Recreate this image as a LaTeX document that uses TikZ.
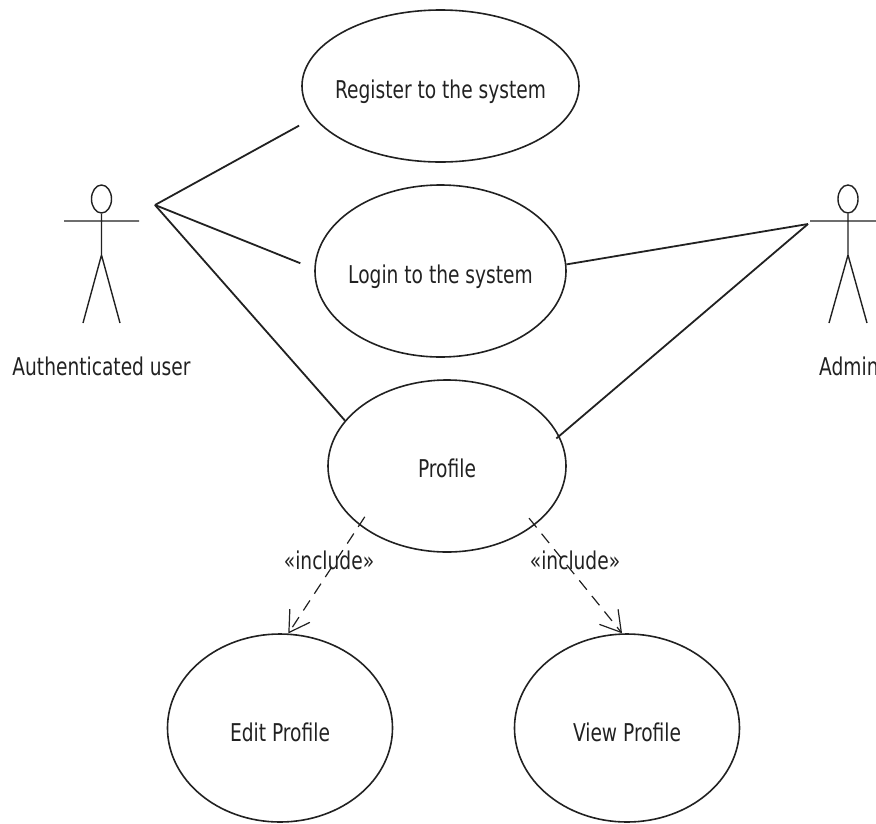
\documentclass[tikz,border=0pt]{standalone}
\usepackage{fontspec}
\setmainfont[FakeStretch=0.76]{DejaVu Sans}
\usetikzlibrary{shapes.geometric,arrows.meta}
\definecolor{ink}{gray}{0.13}
\newcommand{\uctext}[2]{\raisebox{#1}[0pt][0pt]{\makebox[0pt][c]{#2}}}
\tikzset{
  usecase/.style={draw=ink,ellipse,line width=1.6pt,inner sep=0pt,text=ink,font=\fontsize{24.5}{28}\selectfont},
  head/.style={draw=ink,ellipse,line width=1.4pt,minimum width=20pt,minimum height=28pt,inner sep=0pt},
  limb/.style={draw=ink,line width=1.4pt},
  assoc/.style={draw=ink,line width=1.8pt},
  incl/.style={draw=ink,line width=1.2pt,dash pattern=on 12pt off 8pt,-{Straight Barb[length=20pt,width=24pt,line width=1.2pt]}},
  lab/.style={inner sep=0pt,text=ink,font=\fontsize{24.5}{28}\selectfont},
}
\begin{document}
\begin{tikzpicture}[x=1pt,y=-1pt]
\useasboundingbox (0,0) rectangle (876,823);
\clip (0,0) rectangle (876,823);
\node[usecase,minimum width=277pt,minimum height=152pt] (reg) at (440.5,86) {\uctext{-12pt}{Register to the system}};
\node[usecase,minimum width=251pt,minimum height=172pt] (login) at (440.5,271) {\uctext{-12pt}{Login to the system}};
\node[usecase,minimum width=238pt,minimum height=172pt] (profile) at (447,466) {\uctext{-11pt}{Profile}};
\node[usecase,minimum width=225pt,minimum height=188pt] (edit) at (280,728) {\uctext{-13pt}{Edit Profile}};
\node[usecase,minimum width=225pt,minimum height=188pt] (view) at (627,728) {\uctext{-13pt}{View Profile}};
% user actor
\node[head] (uhead) at (101.5,199) {};
\coordinate (uneck) at (101.5,255);
\coordinate (uarmL) at (64,221);
\coordinate (uarmR) at (139,221);
\coordinate (ulegL) at (83,323);
\coordinate (ulegR) at (120,323);
\draw[limb] (uhead) -- (uneck) (uarmL) -- (uarmR) (ulegL) -- (uneck) -- (ulegR);
\node[lab] (ulabel) at (101.5,366) {Authenticated user};
\coordinate (uend) at (155,205);
% admin actor
\node[head] (ahead) at (848,199) {};
\coordinate (aneck) at (848,255);
\coordinate (aarmL) at (810,221);
\coordinate (aarmR) at (886,221);
\coordinate (alegL) at (829,323);
\coordinate (alegR) at (867,323);
\draw[limb] (ahead) -- (aneck) (aarmL) -- (aarmR) (alegL) -- (aneck) -- (alegR);
\node[lab,anchor=west] (alabel) at (819,366) {Admin};
\coordinate (aend) at (808,224);
% associations
\draw[assoc,shorten >=16.5pt] (uend) -- (reg.194.9);
\draw[assoc,shorten >=15pt] (uend) -- (login.179.4);
\draw[assoc] (uend) -- (profile.156.8);
\draw[assoc] (aend) -- (login.3.2);
\draw[assoc,shorten >=-4pt] (aend) -- (profile.15.2);
% includes
\draw[incl,shorten <=-10pt] (profile.214.3) -- (edit.85);
\draw[incl,shorten <=-9pt] (profile.326.2) -- (view.93.7);
\node[lab] (inc1) at (329,560) {«include»};
\node[lab] (inc2) at (575,560) {«include»};
\end{tikzpicture}
\end{document}
